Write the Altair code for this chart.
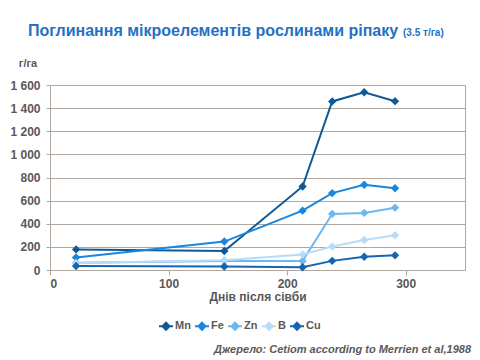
import altair as alt
import pandas as pd

days = [22, 147, 213, 238, 265, 291]
elements = ["Mn", "Fe", "Zn", "B", "Cu"]
mn = [178, 164, 722, 1458, 1537, 1460]
fe = [108, 246, 513, 665, 737, 707]
zn = [62, 78, 78, 485, 494, 539]
b = [60, 85, 133, 203, 259, 301]
cu = [35, 30, 24, 79, 115, 127]
colors = ["#0f5a96", "#1a86dd", "#6cb8f0", "#b8dcf8", "#1565b0"]

title_main = "Поглинання мікроелементів рослинами ріпаку"
title_small = "(3.5 т/га)"
y_unit = "г/га"
x_title = "Днів після сівби"
source = "Джерело: Cetiom according to Merrien et al,1988"

series = {"Mn": mn, "Fe": fe, "Zn": zn, "B": b, "Cu": cu}
rows = []
for el in elements:
    for d, v in zip(days, series[el]):
        rows.append({"day": d, "value": v, "el": el, "order": elements.index(el)})
df = pd.DataFrame(rows)

gray = "#595959"
gridc = "#b0a89e"

color = alt.Color("el:N", scale=alt.Scale(domain=elements, range=colors),
                  sort=elements,
                  legend=alt.Legend(title=None, orient="none", legendX=108, legendY=233,
                                    direction="horizontal",
                                    symbolType="M-1,0L1,0M0,-0.5L0.5,0L0,0.5L-0.5,0Z",
                                    symbolSize=196, symbolStrokeWidth=2,
                                    labelFont="Liberation Sans", labelFontSize=11,
                                    labelFontWeight="bold", labelColor=gray,
                                    labelOffset=1, columnPadding=0))

x = alt.X("day:Q", scale=alt.Scale(domain=[0, 350], nice=False),
          axis=alt.Axis(values=[0, 100, 200, 300], grid=False, title=x_title,
                        titleFont="Liberation Sans", titleFontSize=12, titleFontWeight="bold",
                        titleColor=gray, titlePadding=2,
                        labelFont="Liberation Sans", labelFontSize=12, labelFontWeight="bold",
                        labelColor=gray, domainColor=gridc, tickColor=gridc, tickSize=5,
                        labelPadding=3))
y = alt.Y("value:Q", scale=alt.Scale(domain=[0, 1600], nice=False),
          axis=alt.Axis(values=list(range(0, 1601, 200)), title=None,
                        labelExpr="replace(format(datum.value, ','), ',', ' ')",
                        labelFont="Liberation Sans", labelFontSize=12, labelFontWeight="bold",
                        labelColor=gray, domainColor=gridc, tickColor=gridc, tickSize=4,
                        gridColor=gridc, gridOpacity=1, labelPadding=6))

lines = alt.Chart(df).mark_line(
    strokeWidth=2,
    point=alt.OverlayMarkDef(shape="diamond", size=70, filled=True, opacity=1)
).encode(x=x, y=y, color=color, detail="el:N", order="order:Q")

ann = pd.DataFrame([{"k": 0}])
t1 = alt.Chart(ann).mark_text(text=title_main, font="Liberation Sans", fontSize=16,
                              fontWeight="bold", color="#1f72c4", align="left",
                              baseline="alphabetic").encode(x=alt.value(-22), y=alt.value(-49))
t2 = alt.Chart(ann).mark_text(text=title_small, font="Liberation Sans", fontSize=10,
                              fontWeight="bold", color="#1f72c4", align="left",
                              baseline="alphabetic").encode(x=alt.value(353), y=alt.value(-49))
t3 = alt.Chart(ann).mark_text(text=y_unit, font="Liberation Sans", fontSize=11,
                              fontWeight="bold", color=gray, align="center",
                              baseline="alphabetic").encode(x=alt.value(-22), y=alt.value(-18))
t4 = alt.Chart(ann).mark_text(text=source, font="Liberation Sans", fontSize=11,
                              fontStyle="italic", fontWeight="bold", color=gray, align="right",
                              baseline="alphabetic").encode(x=alt.value(421), y=alt.value(268))

chart = alt.layer(lines, t1, t2, t3, t4).properties(
    width=415, height=185,
    autosize=alt.AutoSizeParams(type="none"),
    padding={"left": 42, "top": 77, "right": 7, "bottom": 88},
).configure_view(stroke=gridc, strokeWidth=1)

chart.save("out.html", embed_options={"renderer": "svg", "actions": False})
